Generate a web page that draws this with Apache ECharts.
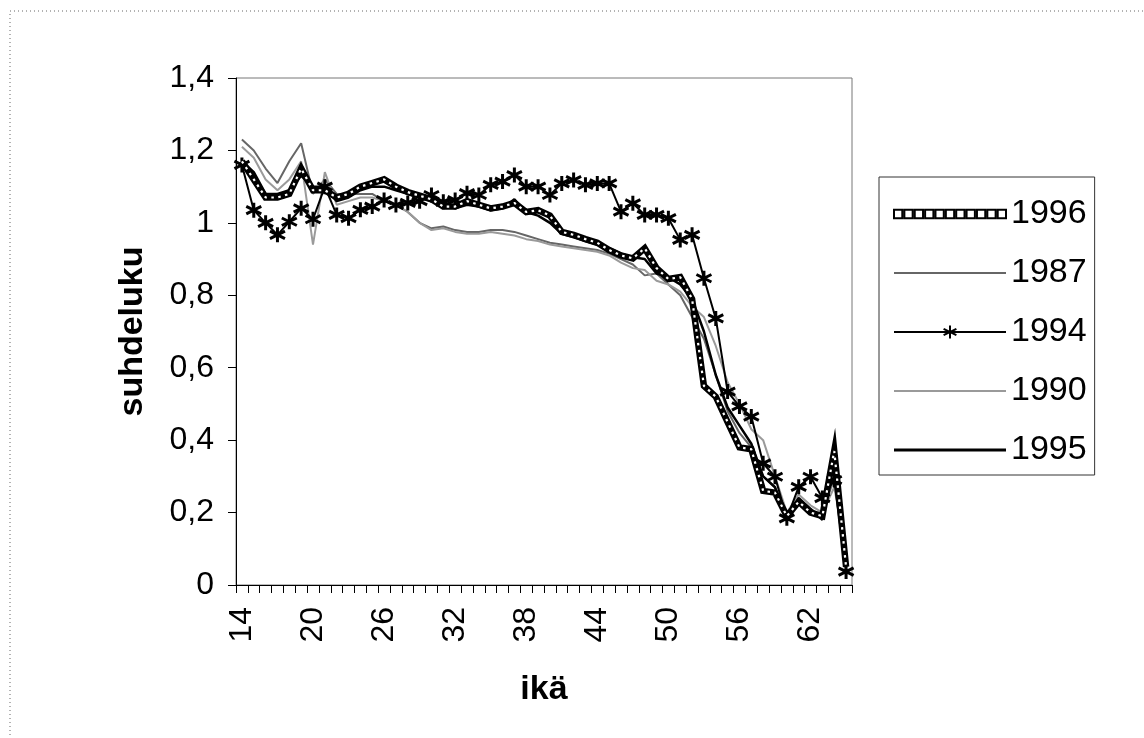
<!DOCTYPE html>
<html>
<head>
  <meta charset="UTF-8">
  <title>suhdeluku</title>
  <script src="https://cdn.jsdelivr.net/npm/echarts@6/dist/echarts.min.js"></script>
  <style>
    html, body {
      margin: 0;
      padding: 0;
      background: #fff;
    }

    #main {
      width: 1144px;
      height: 738px;
    }
  </style>
</head>
<body>
  <div id="main"></div>
  <script>
    const ages = ['14', '15', '16', '17', '18', '19', '20', '21', '22', '23', '24', '25', '26', '27', '28', '29',
      '30', '31', '32', '33', '34', '35', '36', '37', '38', '39', '40', '41', '42', '43', '44', '45', '46', '47',
      '48', '49', '50', '51', '52', '53', '54', '55', '56', '57', '58', '59', '60', '61', '62', '63', '64', '65']

    const s1996 = [1.17, 1.12, 1.07, 1.07, 1.08, 1.15, 1.09, 1.09, 1.07, 1.08,
      1.10, 1.11, 1.12, 1.10, 1.085, 1.075, 1.065, 1.045, 1.045, 1.06,
      1.05, 1.04, 1.045, 1.055, 1.03, 1.035, 1.02, 0.975, 0.967, 0.955,
      0.945, 0.925, 0.91, 0.902, 0.93, 0.875, 0.845, 0.85, 0.79, 0.55,
      0.52, 0.45, 0.38, 0.375, 0.26, 0.255, 0.19, 0.23, 0.20, 0.19,
      0.37, 0.05]

    const s1987 = [1.23, 1.20, 1.15, 1.11, 1.17, 1.22, 1.08, 1.12, 1.08, 1.08,
      1.08, 1.08, 1.06, 1.05, 1.03, 1.0, 0.985, 0.99, 0.98, 0.975,
      0.975, 0.98, 0.98, 0.975, 0.965, 0.955, 0.945, 0.94, 0.935, 0.93,
      0.925, 0.915, 0.90, 0.885, 0.855, 0.86, 0.83, 0.80, 0.74, 0.68,
      0.58, 0.48, 0.42, 0.38, 0.30, 0.27, 0.19, 0.24, 0.21, 0.19,
      0.30, 0.07]

    const s1994 = [1.16, 1.035, 1.0, 0.967, 1.003, 1.04, 1.01, 1.10, 1.022, 1.013,
      1.036, 1.045, 1.063, 1.049, 1.055, 1.06, 1.077, 1.058, 1.063, 1.082,
      1.077, 1.105, 1.114, 1.132, 1.10, 1.10, 1.077, 1.109, 1.118, 1.105,
      1.109, 1.109, 1.031, 1.054, 1.022, 1.022, 1.013, 0.953, 0.967, 0.847,
      0.736, 0.534, 0.493, 0.465, 0.336, 0.299, 0.184, 0.271, 0.299, 0.24,
      0.29, 0.037]

    const s1990 = [1.21, 1.18, 1.12, 1.09, 1.12, 1.17, 0.94, 1.14, 1.05, 1.06,
      1.07, 1.07, 1.06, 1.05, 1.03, 1.0, 0.98, 0.985, 0.975, 0.97,
      0.97, 0.975, 0.97, 0.965, 0.955, 0.95, 0.94, 0.935, 0.93, 0.925,
      0.92, 0.91, 0.89, 0.875, 0.87, 0.84, 0.83, 0.81, 0.77, 0.74,
      0.66, 0.56, 0.50, 0.43, 0.40, 0.30, 0.20, 0.25, 0.22, 0.20,
      0.27, 0.09]

    const s1995 = [1.17, 1.14, 1.08, 1.08, 1.09, 1.13, 1.10, 1.10, 1.06, 1.07,
      1.09, 1.10, 1.10, 1.09, 1.08, 1.07, 1.06, 1.05, 1.04, 1.05,
      1.045, 1.035, 1.04, 1.065, 1.03, 1.02, 1.00, 0.97, 0.96, 0.95,
      0.94, 0.93, 0.915, 0.905, 0.90, 0.86, 0.85, 0.83, 0.79, 0.70,
      0.58, 0.49, 0.44, 0.39, 0.30, 0.27, 0.18, 0.24, 0.21, 0.18,
      0.35, 0.05]

    // asterisk marker for 1994
    const star = 'path://M0,-10L0,10M-8.7,-5L8.7,5M-8.7,5L8.7,-5'
    // row of small squares for the 1996 legend sample
    let squares = 'path://'
    for (let i = 0; i < 11; i++) {
      squares += 'M' + (i * 10) + ',0h8v8h-8z'
    }
    // plain line samples for the legend
    const thinLine = 'path://M0,0h110v2h-110z'
    const thickLine = 'path://M0,0h110v3h-110z'

    const font = 'Arial, "Liberation Sans", sans-serif'

    const myChart = echarts.init(document.querySelector('#main'))
    const option = {
      backgroundColor: '#fff',
      animation: false,
      textStyle: { fontFamily: font, color: '#000' },
      graphic: [{
        type: 'rect',
        shape: { x: 10, y: 11, width: 1300, height: 900 },
        style: { fill: 'none', stroke: '#666', lineWidth: 1, lineDash: [1, 3] },
        silent: true
      }],
      grid: {
        left: 236,
        right: 292,
        top: 78,
        bottom: 153,
        show: true,
        borderColor: '#777',
        borderWidth: 1
      },
      legend: {
        orient: 'vertical',
        left: 879,
        top: 177,
        width: 220,
        padding: [20, 8, 8, 14],
        itemGap: 25,
        itemWidth: 112,
        itemHeight: 16,
        borderColor: '#333',
        borderWidth: 1,
        textStyle: { fontSize: 34, fontFamily: font, color: '#000', lineHeight: 34 },
        data: [
          { name: '1996', icon: squares, itemStyle: { color: '#fff', borderColor: '#000', borderWidth: 2 } },
          { name: '1987', icon: thinLine, itemStyle: { color: '#666', borderWidth: 0 } },
          { name: '1994' },
          { name: '1990', icon: thinLine, itemStyle: { color: '#9a9a9a', borderWidth: 0 } },
          { name: '1995', icon: thickLine, itemStyle: { color: '#000', borderWidth: 0 } }
        ]
      },
      xAxis: {
        type: 'category',
        data: ages,
        boundaryGap: true,
        name: 'ikä',
        nameLocation: 'middle',
        nameGap: 88,
        nameTextStyle: { fontSize: 34, fontWeight: 'bold', color: '#000', fontFamily: font },
        axisLine: { lineStyle: { color: '#000', width: 1 } },
        axisTick: { show: true, interval: 0, length: 8, lineStyle: { color: '#000' } },
        axisLabel: {
          interval: 5,
          rotate: 90,
          margin: 22,
          fontSize: 32,
          color: '#000',
          fontFamily: font
        },
        splitLine: { show: false }
      },
      yAxis: {
        type: 'value',
        min: 0,
        max: 1.4,
        interval: 0.2,
        name: 'suhdeluku',
        nameLocation: 'middle',
        nameGap: 86,
        nameTextStyle: { fontSize: 34, fontWeight: 'bold', color: '#000', fontFamily: font },
        axisLine: { show: true, lineStyle: { color: '#000', width: 1 } },
        axisTick: { show: true, length: 8, lineStyle: { color: '#000' } },
        axisLabel: {
          margin: 22,
          fontSize: 32,
          color: '#000',
          fontFamily: font,
          formatter: v => String(+v.toFixed(1)).replace('.', ',')
        },
        splitLine: { show: false }
      },
      series: [
        {
          name: '1987',
          type: 'line',
          data: s1987,
          symbol: 'none',
          lineStyle: { color: '#666', width: 2 },
          itemStyle: { color: '#666' },
          z: 2
        },
        {
          name: '1990',
          type: 'line',
          data: s1990,
          symbol: 'none',
          lineStyle: { color: '#9a9a9a', width: 2 },
          itemStyle: { color: '#9a9a9a' },
          z: 2
        },
        {
          name: '1995',
          type: 'line',
          data: s1995,
          symbol: 'none',
          lineStyle: { color: '#000', width: 2.5 },
          itemStyle: { color: '#000' },
          z: 3
        },
        {
          name: '1994',
          type: 'line',
          data: s1994,
          symbol: star,
          symbolSize: 15,
          showSymbol: true,
          showAllSymbol: true,
          lineStyle: { color: '#000', width: 2 },
          itemStyle: { color: '#000', borderColor: '#000', borderWidth: 3 },
          z: 4
        },
        {
          name: '1996',
          type: 'line',
          data: s1996,
          symbol: 'none',
          lineStyle: { color: '#000', width: 6.5, cap: 'butt', join: 'miter' },
          itemStyle: { color: '#000' },
          z: 5
        },
        {
          // white holes on the thick 1996 line, giving the chain-of-squares look
          name: '1996',
          type: 'line',
          data: s1996,
          symbol: 'none',
          lineStyle: { color: '#fff', width: 2.2, type: [2.5, 4.5], cap: 'butt' },
          itemStyle: { color: '#000' },
          z: 6
        }
      ]
    }

    myChart.setOption(option)
  </script>
</body>
</html>
